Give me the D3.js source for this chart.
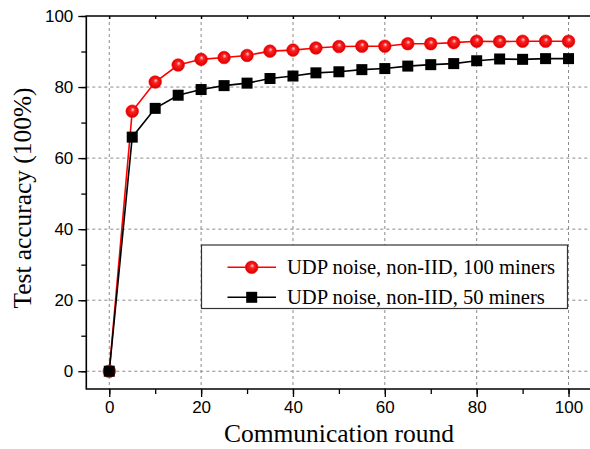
<!DOCTYPE html>
<html>
<head>
<meta charset="utf-8">
<script src="https://cdn.jsdelivr.net/npm/d3@7/dist/d3.min.js"></script>
<style>
  html, body { margin: 0; padding: 0; background: #ffffff; }
  svg { display: block; }
</style>
</head>
<body>
<div id="chart"></div>
<script>
// Data
const rounds = [0, 5, 10, 15, 20, 25, 30, 35, 40, 45, 50, 55, 60, 65, 70, 75, 80, 85, 90, 95, 100];
const miners100 = [0, 73.2, 81.4, 86.2, 87.8, 88.3, 88.9, 90.1, 90.4, 91.0, 91.4, 91.5, 91.5, 92.2, 92.2, 92.5, 92.9, 92.8, 92.9, 92.9, 92.9];
const miners50 = [0, 65.9, 74.0, 77.7, 79.3, 80.4, 81.1, 82.4, 83.1, 84.0, 84.3, 84.9, 85.2, 85.9, 86.3, 86.6, 87.4, 87.9, 87.8, 88.0, 88.0];
const seriesNames = ['UDP noise, non-IID, 100 miners', 'UDP noise, non-IID, 50 miners'];
const xTicks = [0, 20, 40, 60, 80, 100];
const yTicks = [0, 20, 40, 60, 80, 100];

const width = 590, height = 449;
const svg = d3.select('#chart').append('svg')
    .attr('width', width)
    .attr('height', height);

const x = d3.scaleLinear().domain([-5, 105]).range([86.3, 591.5]);
const y = d3.scaleLinear().domain([-5, 100]).range([389, 16]);

// gradient for the red balls
const grad = svg.append('defs').append('radialGradient')
    .attr('id', 'ball')
    .attr('cx', 0.5).attr('cy', 0.5).attr('r', 0.5)
    .attr('fx', 0.55).attr('fy', 0.35);
grad.append('stop').attr('offset', 0).attr('stop-color', '#ffd8d8');
grad.append('stop').attr('offset', 0.35).attr('stop-color', '#ff2020');
grad.append('stop').attr('offset', 1).attr('stop-color', '#d80000');

// grid lines (dashed)
const grid = svg.append('g').attr('class', 'grid');
grid.selectAll('line.gx')
    .data(xTicks)
    .join('line')
    .attr('class', 'gx')
    .attr('x1', d => x(d)).attr('x2', d => x(d))
    .attr('y1', y(100)).attr('y2', y(-5))
    .attr('stroke', '#8a8a8a')
    .attr('stroke-width', 1)
    .attr('stroke-dasharray', '3 3');
grid.selectAll('line.gy')
    .data(yTicks.filter(d => d < 100))
    .join('line')
    .attr('class', 'gy')
    .attr('x1', x(-5)).attr('x2', x(105))
    .attr('y1', d => y(d)).attr('y2', d => y(d))
    .attr('stroke', '#8a8a8a')
    .attr('stroke-width', 1)
    .attr('stroke-dasharray', '3 3');

// axes
const minorX = d3.range(0, 101, 10);
const minorY = d3.range(0, 101, 10);

const xAxis = svg.append('g')
    .attr('transform', 'translate(0,' + y(-5) + ')')
    .call(d3.axisBottom(x).tickValues(minorX).tickSize(5).tickFormat(''));
xAxis.append('g')
    .call(d3.axisBottom(x).tickValues(xTicks).tickSize(8).tickPadding(4).tickFormat(d3.format('d')));

const yAxis = svg.append('g')
    .attr('transform', 'translate(' + x(-5) + ',0)')
    .call(d3.axisLeft(y).tickValues(minorY).tickSize(5).tickFormat(''));
yAxis.append('g')
    .call(d3.axisLeft(y).tickValues(yTicks).tickSize(8).tickPadding(5).tickFormat(d3.format('d')));

// top axis: small inward ticks
svg.append('g')
    .attr('transform', 'translate(0,' + y(100) + ')')
    .call(d3.axisBottom(x).tickValues(minorX).tickSize(3).tickFormat(''));

svg.selectAll('.domain').remove();
svg.selectAll('.tick line').attr('stroke', '#000').attr('stroke-width', 1.3);
svg.selectAll('.tick text')
    .attr('fill', '#000')
    .style('font-family', '"Liberation Sans", Arial, sans-serif')
    .style('font-size', '17px');

// frame
svg.append('path')
    .attr('d', 'M' + x(105) + ',' + y(100) + 'H' + x(-5) + 'V' + y(-5) + 'H' + x(105))
    .attr('fill', 'none')
    .attr('stroke', '#000')
    .attr('stroke-width', 1.6);

// lines
const line = d3.line().x((d, i) => x(rounds[i])).y(d => y(d));

svg.append('path')
    .datum(miners100)
    .attr('d', line)
    .attr('fill', 'none')
    .attr('stroke', '#ff0000')
    .attr('stroke-width', 1.6);

svg.append('path')
    .datum(miners50)
    .attr('d', line)
    .attr('fill', 'none')
    .attr('stroke', '#000')
    .attr('stroke-width', 1.6);

// markers
svg.append('g').selectAll('circle')
    .data(miners100)
    .join('circle')
    .attr('cx', (d, i) => x(rounds[i]))
    .attr('cy', d => y(d))
    .attr('r', 6.3)
    .attr('fill', 'url(#ball)')
    .attr('stroke', '#ff0000')
    .attr('stroke-width', 0.6);

const sq = 11;
svg.append('g').selectAll('rect')
    .data(miners50)
    .join('rect')
    .attr('x', (d, i) => x(rounds[i]) - sq / 2)
    .attr('y', d => y(d) - sq / 2)
    .attr('width', sq)
    .attr('height', sq)
    .attr('fill', '#000');

// legend
const legend = svg.append('g');
legend.append('rect')
    .attr('x', 201.5).attr('y', 245)
    .attr('width', 366).attr('height', 63.5)
    .attr('fill', '#fff')
    .attr('stroke', '#333')
    .attr('stroke-width', 1.2);

const rowY = [267.3, 297.3];
rowY.forEach(function(ry, i) {
    legend.append('line')
        .attr('x1', 227.5).attr('x2', 276)
        .attr('y1', ry).attr('y2', ry)
        .attr('stroke', i === 0 ? '#ff0000' : '#000')
        .attr('stroke-width', 1.6);
    if (i === 0) {
        legend.append('circle')
            .attr('cx', 251.7).attr('cy', ry).attr('r', 6.3)
            .attr('fill', 'url(#ball)')
            .attr('stroke', '#ff0000')
            .attr('stroke-width', 0.6);
    } else {
        legend.append('rect')
            .attr('x', 251.7 - sq / 2).attr('y', ry - sq / 2)
            .attr('width', sq).attr('height', sq)
            .attr('fill', '#000');
    }
    legend.append('text')
        .attr('x', 287)
        .attr('y', ry + 7)
        .attr('fill', '#000')
        .style('font-family', '"Liberation Serif", "Times New Roman", serif')
        .style('font-size', '20.6px')
        .text(seriesNames[i]);
});

// axis titles
svg.append('text')
    .attr('x', 339)
    .attr('y', 442)
    .attr('text-anchor', 'middle')
    .attr('fill', '#000')
    .style('font-family', '"Liberation Serif", "Times New Roman", serif')
    .style('font-size', '25.5px')
    .text('Communication round');

svg.append('text')
    .attr('transform', 'translate(31,198) rotate(-90)')
    .attr('text-anchor', 'middle')
    .attr('fill', '#000')
    .style('font-family', '"Liberation Serif", "Times New Roman", serif')
    .style('font-size', '25.4px')
    .text('Test accuracy (100%)');
</script>
</body>
</html>
